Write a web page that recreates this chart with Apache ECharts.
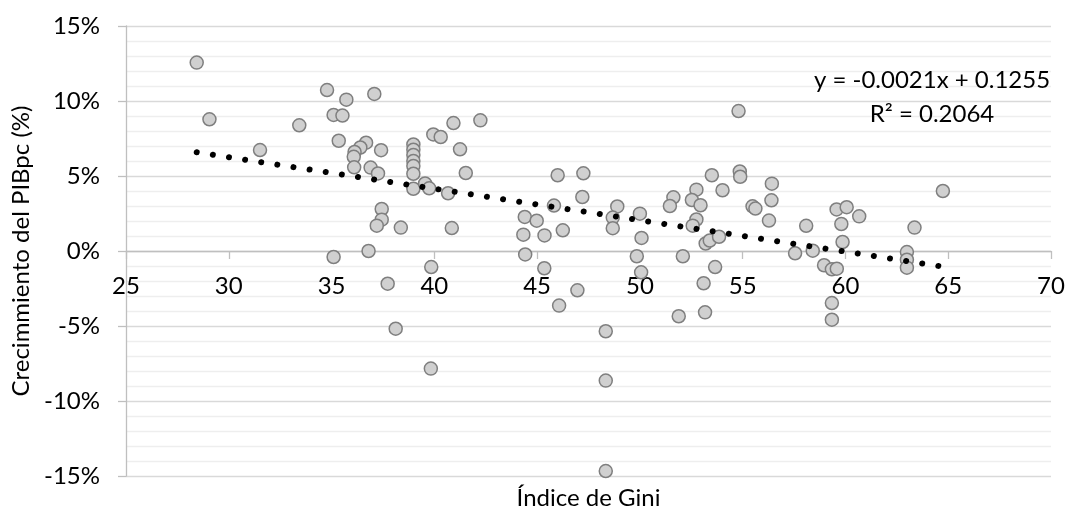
<!DOCTYPE html>
<html><head><meta charset="utf-8">
<script src="https://cdn.jsdelivr.net/npm/echarts@6.0.0/dist/echarts.min.js"></script>
<style>html,body{margin:0;padding:0;background:#fff}#c{width:1066px;height:507px}</style>
</head><body><div id="c"></div>
<script>
// Índice de Gini (x) and Crecimiento del PIBpc in % (y)
const gini = [
  28.44, 29.06, 31.52, 33.43, 34.78, 35.72, 37.08, 35.10, 35.53, 35.35,
  36.68, 36.40, 36.12, 36.08, 37.41, 36.10, 36.90, 37.26, 37.44, 37.44,
  37.20, 38.37, 36.80, 35.10, 37.73, 38.12, 39.85, 39.83, 38.98, 38.98,
  38.98, 38.98, 38.98, 38.98, 38.98, 39.55, 39.75, 39.95, 40.31, 40.67,
  40.93, 42.24, 41.25, 41.53, 40.85, 44.40, 44.98, 44.33, 45.36, 44.42,
  45.35, 45.82, 46.00, 47.25, 47.20, 46.25, 46.96, 46.07, 48.34, 48.34,
  48.34, 48.90, 48.68, 48.68, 50.00, 50.08, 49.85, 50.06, 51.63, 51.46,
  52.09, 51.89, 52.75, 52.53, 52.95, 52.75, 52.57, 53.20, 53.40, 53.85,
  53.10, 53.17, 53.66, 53.50, 54.02, 54.80, 54.86, 54.88, 55.48, 55.62,
  56.42, 56.40, 56.28, 57.55, 58.09, 58.41, 58.96, 59.34, 59.58, 59.34,
  59.34, 59.57, 60.06, 60.67, 59.80, 59.86, 62.99, 62.99, 62.99, 63.36,
  64.74
];
const growth = [
  12.56, 8.78, 6.73, 8.38, 10.73, 10.09, 10.47, 9.07, 9.03, 7.35,
  7.22, 6.90, 6.60, 6.28, 6.72, 5.58, 5.56, 5.17, 2.80, 2.09,
  1.69, 1.56, 0.00, -0.40, -2.18, -5.18, -1.07, -7.84, 7.10, 6.75,
  6.40, 6.00, 5.67, 5.15, 4.15, 4.50, 4.18, 7.77, 7.60, 3.85,
  8.53, 8.71, 6.78, 5.20, 1.53, 2.27, 2.02, 1.09, 1.04, -0.23,
  -1.15, 3.03, 5.05, 5.18, 3.60, 1.38, -2.62, -3.64, -5.35, -8.64,
  -14.67, 2.97, 2.23, 1.52, 2.49, 0.87, -0.35, -1.42, 3.58, 3.00,
  -0.35, -4.35, 4.09, 3.40, 3.05, 2.10, 1.69, 0.50, 0.70, 0.95,
  -2.15, -4.09, -1.07, 5.05, 4.05, 9.33, 5.30, 4.95, 2.98, 2.83,
  4.49, 3.38, 2.03, -0.15, 1.68, 0.02, -0.95, -1.22, -1.18, -3.47,
  -4.58, 2.77, 2.92, 2.31, 1.80, 0.60, -0.07, -0.58, -1.11, 1.56,
  4.00
];
// Linear trendline end points
const trendX = [28.44, 64.74];
const trendY = [6.58, -1.04];
const equationLines = ['y = -0.0021x + 0.1255', 'R² = 0.2064'];
const xTitle = 'Índice de Gini';
const yTitle = 'Crecimmiento del PIBpc (%)';

const FONT = 'Lato';
const points = gini.map((g, i) => [g, growth[i]]);
const trend = trendX.map((x, i) => [x, trendY[i]]);

const chart = echarts.init(document.getElementById('c'), null, {renderer: 'canvas'});
chart.setOption({
  animation: false,
  backgroundColor: '#ffffff',
  textStyle: {fontFamily: FONT},
  grid: {left: 126, right: 15, top: 26, bottom: 31, containLabel: false, outerBoundsMode: 'none'},
  xAxis: {
    type: 'value', min: 25, max: 70, interval: 5,
    name: xTitle, nameLocation: 'middle', nameGap: 10,
    nameTextStyle: {fontSize: 24, color: '#000', fontFamily: FONT},
    axisLine: {show: true, onZero: true, onZeroAxisIndex: 0, lineStyle: {color: '#bfbfbf', width: 1.3}},
    axisTick: {show: true, length: 8, lineStyle: {color: '#bfbfbf', width: 1.3}},
    axisLabel: {fontSize: 24, color: '#000', margin: -202, fontFamily: FONT},
    splitLine: {show: false}
  },
  yAxis: {
    type: 'value', min: -15, max: 15, interval: 5,
    name: yTitle, nameLocation: 'middle', nameGap: 92,
    nameTextStyle: {fontSize: 24, color: '#000', fontFamily: FONT},
    axisLine: {show: true, lineStyle: {color: '#bfbfbf', width: 1.3}},
    axisTick: {show: true, length: 8, lineStyle: {color: '#bfbfbf', width: 1.3}},
    axisLabel: {fontSize: 24, color: '#000', margin: 26, formatter: '{value}%', fontFamily: FONT},
    splitLine: {show: true, lineStyle: {color: '#d9d9d9', width: 1.3}},
    minorTick: {show: false, splitNumber: 5},
    minorSplitLine: {show: true, lineStyle: {color: '#eeeeee', width: 1.3}}
  },
  graphic: equationLines.map((t, i) => ({
    type: 'text', x: 932, y: 80 + i * 34, z: 10,
    style: {text: t, fontSize: 24, fontFamily: FONT, fill: '#000', align: 'center', verticalAlign: 'middle'}
  })),
  series: [
    {
      type: 'scatter', data: points, symbol: 'circle', symbolSize: 13,
      itemStyle: {color: '#d0d0d0', borderColor: '#7f7f7f', borderWidth: 1.5, opacity: 1},
      z: 2
    },
    {
      type: 'line', data: trend, symbol: 'none', silent: true, z: 3,
      lineStyle: {color: '#000', width: 6, type: [0.01, 16.3], cap: 'round'}
    }
  ]
});
</script></body></html>
